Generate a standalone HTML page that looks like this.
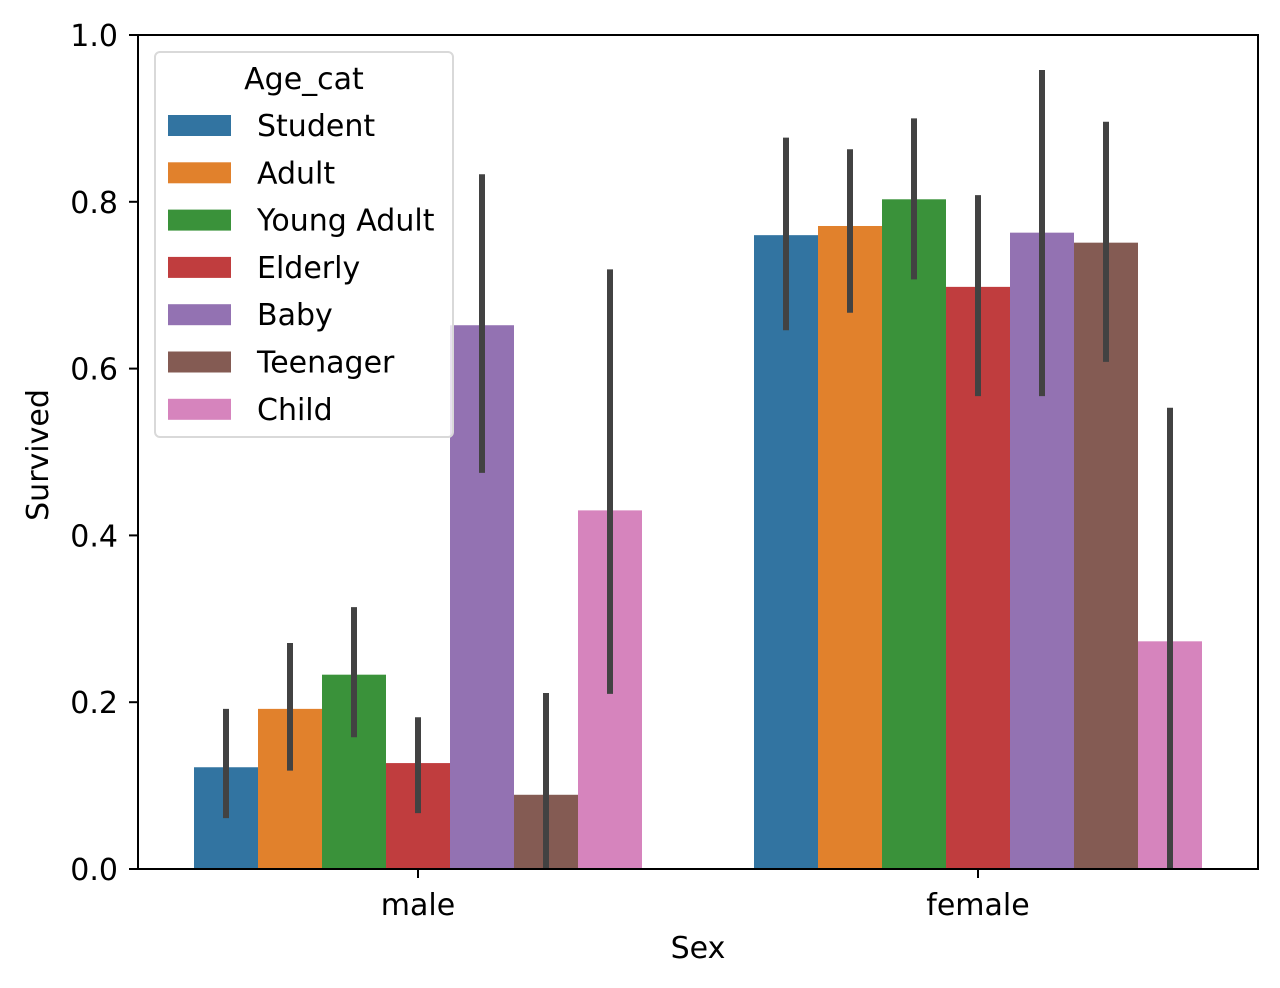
<!DOCTYPE html>
<html><head><meta charset="utf-8"><style>
html,body{margin:0;padding:0;background:#fff;}
svg{display:block;font-family:"DejaVu Sans","Liberation Sans",sans-serif;}
</style></head><body>
<svg id="chart" width="1280" height="988" viewBox="0 0 1280 988" xmlns="http://www.w3.org/2000/svg">
<rect x="0" y="0" width="1280" height="988" fill="#fff"/>
<g id="bars"></g>
<g id="errs"></g>
<g id="axes"></g>
<g id="legend"></g>
</svg>
<script>
const sexes = ["male", "female"];
const ageCats = ["Student", "Adult", "Young Adult", "Elderly", "Baby", "Teenager", "Child"];
const colors = ["#3274a1", "#e1812c", "#3a923a", "#c03d3e", "#9372b2", "#845b53", "#d684bd"];
const maleValues = [0.122, 0.192, 0.233, 0.127, 0.652, 0.089, 0.430];
const femaleValues = [0.760, 0.771, 0.803, 0.698, 0.763, 0.751, 0.273];
const maleLow = [0.061, 0.118, 0.158, 0.067, 0.475, 0.0, 0.210];
const maleHigh = [0.192, 0.271, 0.314, 0.182, 0.833, 0.211, 0.719];
const femaleLow = [0.646, 0.667, 0.707, 0.567, 0.567, 0.608, 0.0];
const femaleHigh = [0.877, 0.863, 0.900, 0.808, 0.958, 0.896, 0.553];
const yTicks = [0.0, 0.2, 0.4, 0.6, 0.8, 1.0];

const NS = "http://www.w3.org/2000/svg";
const L = 138, R = 1258, T = 35, B = 869;
const FS = 30;
const yScale = v => B - (v / 1.0) * (B - T);
const catW = (R - L) / sexes.length;
const xCenter = i => L + catW * (i + 0.5);
const bandW = catW * 0.8;
const barW = bandW / ageCats.length;
function mk(tag, attrs, parent) {
  const e = document.createElementNS(NS, tag);
  for (const k in attrs) e.setAttribute(k, attrs[k]);
  parent.appendChild(e);
  return e;
}
const gBars = document.getElementById("bars"), gErr = document.getElementById("errs");
const gAx = document.getElementById("axes"), gLeg = document.getElementById("legend");
const vals = [maleValues, femaleValues], lows = [maleLow, femaleLow], highs = [maleHigh, femaleHigh];
sexes.forEach((s, i) => {
  ageCats.forEach((a, j) => {
    const x = xCenter(i) - bandW / 2 + j * barW;
    const v = vals[i][j];
    const r = mk("rect", {x: x, y: yScale(v), width: barW, height: yScale(0) - yScale(v), fill: colors[j]}, gBars);
    
    
    const cx = x + barW / 2;
    const l = mk("line", {x1: cx, x2: cx, y1: yScale(lows[i][j]), y2: yScale(highs[i][j]), stroke: "#424242", "stroke-width": 6}, gErr);
    
    
  });
});
const fr = mk("rect", {x: L, y: T, width: R - L, height: B - T, fill: "none", stroke: "#000", "stroke-width": 2}, gAx);


yTicks.forEach(t => {
  const y = yScale(t);
  const tk = mk("line", {x1: L - 9, x2: L, y1: y, y2: y, stroke: "#000", "stroke-width": 2}, gAx);
  
  
  const tx = mk("text", {x: L - 20, y: y + 11, "text-anchor": "end", "font-size": FS}, gAx);
  tx.textContent = t.toFixed(1);
  
  
});
sexes.forEach((s, i) => {
  const x = xCenter(i);
  const tk = mk("line", {x1: x, x2: x, y1: B, y2: B + 9, stroke: "#000", "stroke-width": 2}, gAx);
  
  
  const tx = mk("text", {x: x, y: B + 46, "text-anchor": "middle", "font-size": FS}, gAx);
  tx.textContent = s;
  
  
});
const xt = mk("text", {x: (L + R) / 2, y: 958, "text-anchor": "middle", "font-size": FS}, gAx);
xt.textContent = "Sex";


const yt = mk("text", {x: 0, y: 0, "text-anchor": "middle", "font-size": FS, transform: "translate(48,455) rotate(-90)"}, gAx);
yt.textContent = "Survived";


const lb = mk("rect", {x: 155, y: 52, width: 298, height: 385, rx: 5, fill: "#fff", "fill-opacity": 0.8, stroke: "#d9d9d9", "stroke-width": 2}, gLeg);


const lt = mk("text", {x: 304, y: 89, "text-anchor": "middle", "font-size": FS}, gLeg);
lt.textContent = "Age_cat";


ageCats.forEach((a, j) => {
  const y = 125 + j * 47.3;
  const p = mk("rect", {x: 168, y: y - 10, width: 63, height: 21, fill: colors[j]}, gLeg);
  
  
  const t = mk("text", {x: 257, y: y + 11, "font-size": FS}, gLeg);
  t.textContent = a;
  
  
});
</script>
</body></html>
